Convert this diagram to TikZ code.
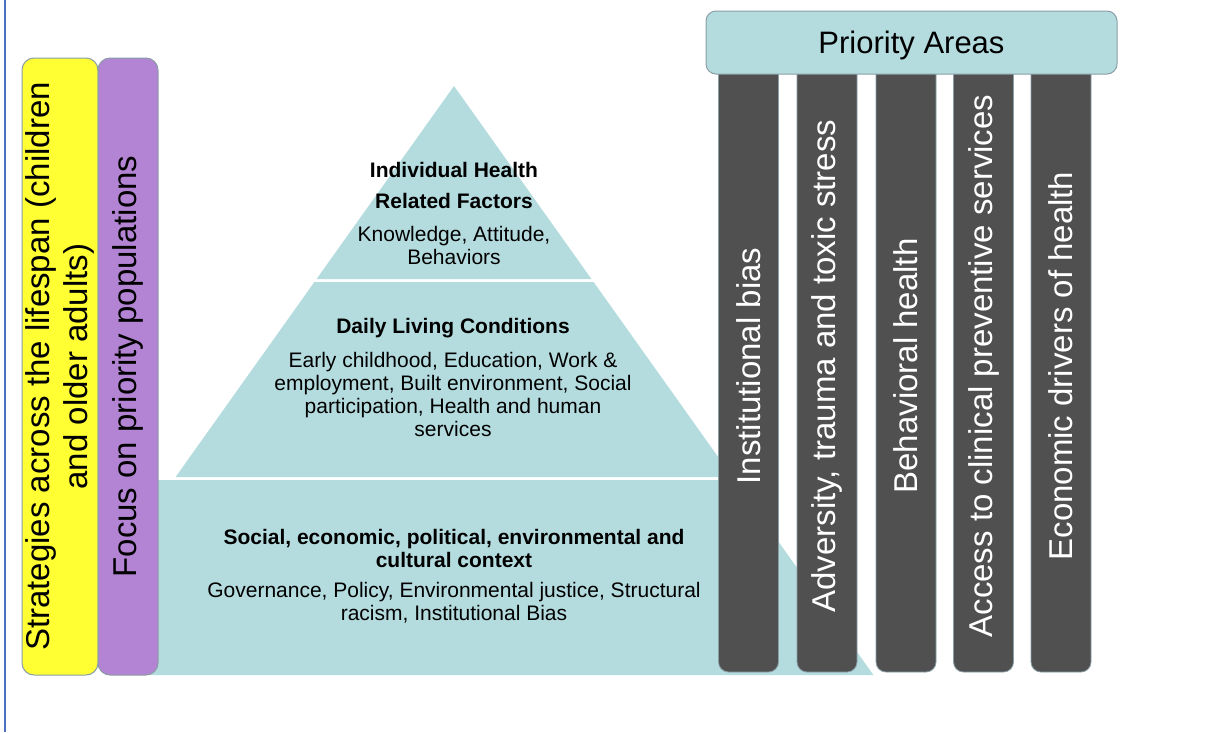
\documentclass[tikz,border=0pt]{standalone}
\usepackage{fontspec}
\setmainfont{Liberation Sans}
\definecolor{bandteal}{HTML}{B4DCDF}
\definecolor{sideyellow}{HTML}{FFFF33}
\definecolor{sidepurple}{HTML}{B484D4}
\definecolor{pillargray}{HTML}{505050}
\definecolor{edgegray}{HTML}{8A9EA6}
\definecolor{frameblue}{HTML}{4A72C0}
\begin{document}
\begin{tikzpicture}[x=1pt,y=-1pt,
    band/.style={fill=bandteal},
    bandhead/.style={font=\fontsize{21}{31}\selectfont\bfseries,align=center,inner sep=0pt},
    bandtext/.style={font=\fontsize{21}{23}\selectfont,align=center,inner sep=0pt},
    sidebar/.style={draw=edgegray,line width=1pt,rounded corners=12pt,rotate=90,
      minimum width=617pt,align=center,inner sep=0pt,font=\fontsize{33}{38}\selectfont},
    pillar/.style={draw=edgegray,line width=0.8pt,fill=pillargray,rounded corners=10pt,
      rotate=90,minimum width=612pt,minimum height=60pt,inner sep=0pt,text=white,
      font=\fontsize{33}{38}\selectfont},
    roof/.style={draw=edgegray,line width=1pt,fill=bandteal,rounded corners=10pt,
      minimum width=411pt,minimum height=63pt,text depth=0pt,font=\fontsize{31}{36}\selectfont}]
  \useasboundingbox (0,0) rectangle (1232,732);
  \fill[white] (0,0) rectangle (1232,732);
  \draw[frameblue,line width=2pt] (5,0) -- (5,732);
  % pyramid
  \fill[band] (454,86) -- (591.4,279) -- (316.6,279) -- cycle;
  \fill[band] (314.4,282) -- (593.6,282) -- (732.4,477) -- (175.6,477) -- cycle;
  \fill[band] (150,480) -- (734.5,480) -- (873.4,675) -- (150,675) -- cycle;
  \draw
    (454,185.5) node[bandhead] (indhead){Individual Health\\Related Factors}
    (454,245.5) node[bandtext] (indtext){Knowledge, Attitude,\\Behaviors}
    (453,328) node[bandhead] (dailyhead){Daily Living Conditions}
    (453,394.5) node[bandtext] (dailytext){Early childhood, Education, Work \&\\employment, Built environment, Social\\participation, Health and human\\services}
    (454,548.5) node[bandtext,font=\fontsize{21}{23}\selectfont\bfseries] (contexthead){Social, economic, political, environmental and\\cultural context}
    (454,603) node[bandtext] (contexttext){Governance, Policy, Environmental justice, Structural\\racism, Institutional Bias};
  % priority areas
  \draw
    (748.5,366) node[pillar] (bias){Institutional bias}
    (827,366) node[pillar] (adversity){Adversity, trauma and toxic stress}
    (906,366) node[pillar] (behavioral){Behavioral health}
    (983.5,366) node[pillar] (access){Access to clinical preventive services}
    (1061,366) node[pillar] (economic){Economic drivers of health}
    (911.5,42.5) node[roof] (priority){Priority Areas};
  % side bars
  \draw
    (60,366.5) node[sidebar,fill=sideyellow,minimum height=76pt] (lifespan){Strategies across the lifespan (children\\and older adults)}
    (128,366.5) node[sidebar,fill=sidepurple,minimum height=60pt] (populations){Focus on priority populations};
\end{tikzpicture}
\end{document}
